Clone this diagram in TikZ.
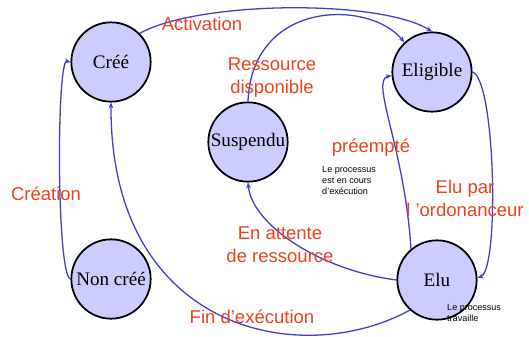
\documentclass[tikz,border=0pt]{standalone}
\usepackage{fontspec}
\setmainfont{Liberation Serif}
\newfontfamily\labelfont{Liberation Sans}
\usetikzlibrary{arrows.meta}
\definecolor{etatfill}{RGB}{204,204,255}
\definecolor{lienblue}{RGB}{64,64,196}
\definecolor{lblred}{RGB}{236,66,30}

\begin{document}
\begin{tikzpicture}[
  x=0.03cm, y=-0.03cm,
  etat/.style={circle, draw, line width=1.5pt, fill=etatfill, minimum size=2.38cm, inner sep=0pt, font=\fontsize{16.3}{19}\selectfont},
  trans/.style={-{Stealth[length=5pt,width=4pt]}, lienblue, line width=1.1pt},
  lbl/.style={text=lblred, font=\labelfont\fontsize{15.8}{18.8}\selectfont, align=center, inner sep=0pt, anchor=base},
  note/.style={font=\labelfont\fontsize{7.7}{9.4}\selectfont, align=left, inner sep=0pt, anchor=north west}
]
\useasboundingbox (0,0) rectangle (529,337);
\node[etat] (cree) at (111,62) {Créé};
\node[etat] (elig) at (432,72) {Eligible};
\node[etat] (susp) at (248,142) {Suspendu};
\node[etat] (noncree) at (111,279) {Non créé};
\node[etat] (elu) at (437,280) {Elu};
\draw[trans] (cree.45) .. controls +(60,-33) and +(-52,-32) .. (elig.north);
\draw[trans] (susp.north) .. controls +(4,-102) and +(-35,-43) .. (elig.133);
\draw[trans] (elu.130) .. controls +(-6,-100) and +(-22,4.5) .. (elig.185);
\draw[trans] (elig.0) .. controls +(23,8) and +(22,-8) .. (elu.3);
\draw[trans] (elu.180) .. controls +(-77,-10) and +(4,42) .. (susp.south);
\draw[trans] (elu.228) .. controls +(-110,60) and +(-1,228) .. (cree.south);
\draw[trans] (noncree.180) .. controls +(-14,-4) and +(-14,-3) .. (cree.180);
% labels (base = last line)
\node[lbl] (activation) at (202,30) {Activation};
\node[lbl] (dispo) at (272,93) {Ressource\\disponible};
\node[lbl] (preempt) at (371,152) {préempté};
\node[lbl] (creation) at (46,200) {Création};
\node[lbl] (attente) at (280,262) {En attente\\de ressource};
\node[lbl] (elupar) at (465,216) {Elu par\\l ’ordonanceur};
\node[lbl] (fin) at (252,323) {Fin d’exécution};
\node[note] (encours) at (322,166) {Le processus\\est en cours\\d’exécution};
\node[note] (travaille) at (447,304) {Le processus\\travaille};
\end{tikzpicture}
\end{document}
